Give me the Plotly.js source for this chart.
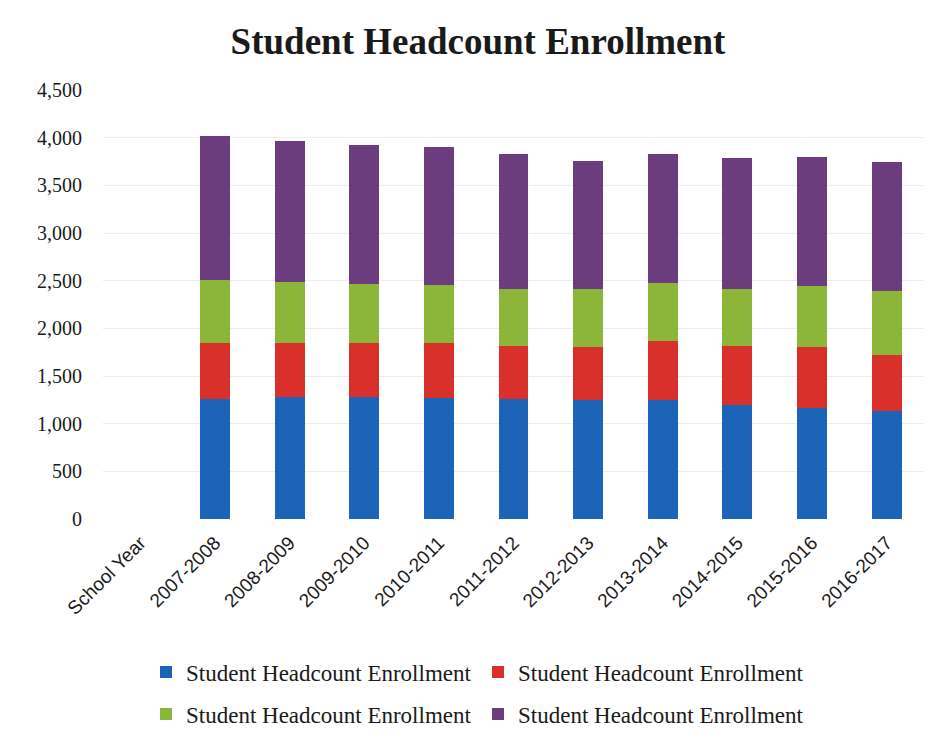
<!DOCTYPE html>
<html>
<head>
<meta charset="utf-8">
<script src="https://cdn.plot.ly/plotly-3.0.1.min.js"></script>
<style>html,body{margin:0;padding:0;background:#fff;}#chart{width:938px;height:742px;}</style>
</head>
<body>
<div id="chart"></div>
<script>
const categories = ["School Year","2007-2008","2008-2009","2009-2010","2010-2011","2011-2012","2012-2013","2013-2014","2014-2015","2015-2016","2016-2017"];
const seriesName = "Student Headcount Enrollment";
const blueValues   = [null,1255,1280,1280,1270,1255,1250,1245,1200,1165,1135];
const redValues    = [null, 590, 565, 565, 580, 560, 555, 625, 610, 635, 590];
const greenValues  = [null, 665, 640, 620, 600, 600, 605, 605, 600, 645, 665];
const purpleValues = [null,1510,1485,1455,1455,1415,1350,1355,1380,1355,1355];
const yTicks = [0,500,1000,1500,2000,2500,3000,3500,4000,4500];

const colors = ["#1c64b7","#d9302c","#8bb63a","#6b3c7e"];
const serif = "Liberation Serif, Times New Roman, serif";

function mk(vals, color, legend) {
  return {type:"bar", x:categories, y:vals, name:seriesName, marker:{color:color},
          legend:legend, hoverinfo:"y"};
}
const data = [
  mk(blueValues, colors[0], "legend"),
  mk(redValues, colors[1], "legend"),
  mk(greenValues, colors[2], "legend2"),
  mk(purpleValues, colors[3], "legend2")
];

const legendCommon = {orientation:"h", xref:"container", yref:"container", xanchor:"left", yanchor:"middle",
  font:{family:serif, size:23, color:"#1a1a1a"}, itemwidth:30, entrywidth:287, entrywidthmode:"pixels",
  traceorder:"normal", bgcolor:"rgba(0,0,0,0)"};

const layout = {
  width:938, height:742,
  margin:{l:103, r:14, t:90, b:222.5},
  paper_bgcolor:"#ffffff", plot_bgcolor:"#ffffff",
  barmode:"stack", bargap:0.6,
  title:{text:"<b>Student Headcount Enrollment</b>", font:{family:serif, size:37, color:"#1a1a1a"},
         x:478/938, xanchor:"center", y:1-41/742, yanchor:"middle"},
  xaxis:{type:"category", tickangle:-45, tickfont:{family:"Liberation Sans, Arial, sans-serif", size:19, color:"#1a1a1a"},
         showgrid:false, showline:false, zeroline:false, ticks:"", ticklabelstandoff:8},
  yaxis:{range:[0,4500], tickvals:yTicks, tickformat:",d", tickfont:{family:serif, size:20, color:"#1a1a1a"},
         showgrid:true, gridcolor:"#ececec", gridwidth:1, zeroline:false, showline:false, ticks:"", ticklabelstandoff:20},
  legend:Object.assign({}, legendCommon, {x:146/938, y:1-672/742}),
  legend2:Object.assign({}, legendCommon, {x:146/938, y:1-714/742}),
  showlegend:true
};
Plotly.newPlot("chart", data, layout, {displayModeBar:false, staticPlot:true});
</script>
</body>
</html>
